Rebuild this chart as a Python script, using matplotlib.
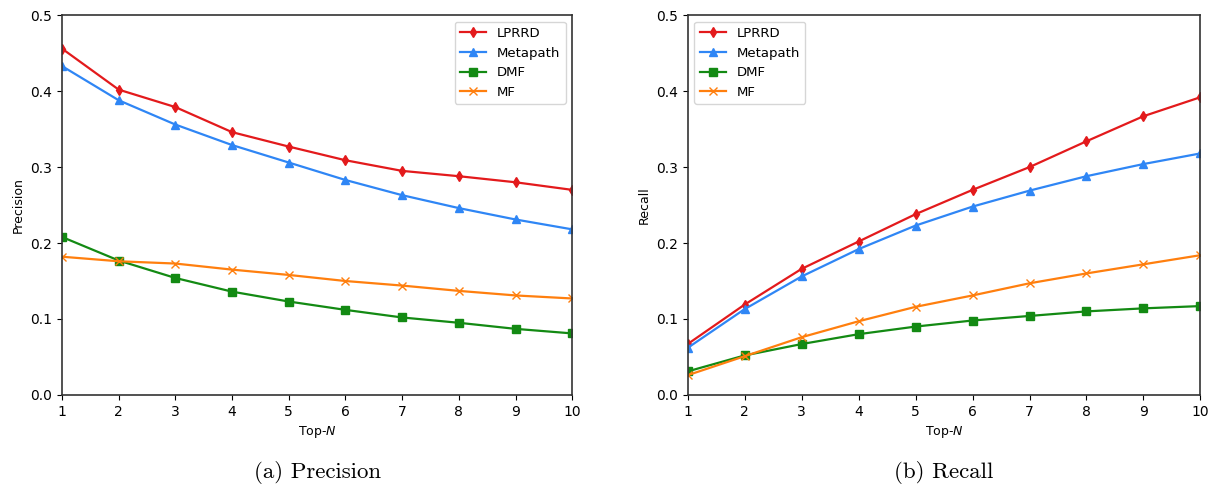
import matplotlib
matplotlib.use("Agg")
import matplotlib.pyplot as plt

top_n = [1, 2, 3, 4, 5, 6, 7, 8, 9, 10]

# Precision values
prec_lprrd = [0.456, 0.402, 0.379, 0.346, 0.327, 0.309, 0.295, 0.288, 0.280, 0.270]
prec_metapath = [0.433, 0.388, 0.356, 0.329, 0.306, 0.283, 0.263, 0.246, 0.231, 0.218]
prec_dmf = [0.208, 0.177, 0.154, 0.136, 0.123, 0.112, 0.102, 0.095, 0.087, 0.081]
prec_mf = [0.182, 0.176, 0.173, 0.165, 0.158, 0.150, 0.144, 0.137, 0.131, 0.127]

# Recall values
rec_lprrd = [0.067, 0.119, 0.166, 0.202, 0.238, 0.270, 0.300, 0.334, 0.367, 0.392]
rec_metapath = [0.062, 0.113, 0.156, 0.192, 0.223, 0.248, 0.269, 0.288, 0.304, 0.318]
rec_dmf = [0.031, 0.052, 0.067, 0.080, 0.090, 0.098, 0.104, 0.110, 0.114, 0.117]
rec_mf = [0.026, 0.051, 0.076, 0.097, 0.116, 0.131, 0.147, 0.160, 0.172, 0.184]

labels = ["LPRRD", "Metapath", "DMF", "MF"]
colors = ["#e31a1c", "#2f86f5", "#138a13", "#ff7f0e"]
markers = ["d", "^", "s", "x"]

fig = plt.figure(figsize=(12.15, 4.9), dpi=100)
ax1 = fig.add_axes([0.051, 0.194, 0.420, 0.775])
ax2 = fig.add_axes([0.566, 0.194, 0.422, 0.775])


def draw_panel(ax, series, ylabel, legend_loc, caption):
    for vals, lab, col, mk in zip(series, labels, colors, markers):
        ax.plot(top_n, vals, color=col, marker=mk, markersize=5.5,
                linewidth=1.6, label=lab)
    ax.set_xlim(1, 10)
    ax.set_ylim(0, 0.5)
    ax.set_xticks(top_n)
    ax.set_yticks([0.0, 0.1, 0.2, 0.3, 0.4, 0.5])
    ax.set_ylabel(ylabel, fontsize=9)
    ax.set_xlabel("Top-$N$", fontsize=9)
    ax.tick_params(labelsize=10)
    for sp in ax.spines.values():
        sp.set_color("#333333")
        sp.set_linewidth(1.2)
    ax.legend(loc=legend_loc, fontsize=9.5, framealpha=0.8)
    # caption in Computer Modern, like the LaTeX subfigure label
    ax.text(0.5, -0.175, caption, transform=ax.transAxes, ha="center",
            va="top", fontsize=16.5, family="cmr10")


draw_panel(ax1, [prec_lprrd, prec_metapath, prec_dmf, prec_mf],
           "Precision", "upper right", "(a) Precision")
draw_panel(ax2, [rec_lprrd, rec_metapath, rec_dmf, rec_mf],
           "Recall", "upper left", "(b) Recall")

fig.savefig("out.png", dpi=100)
